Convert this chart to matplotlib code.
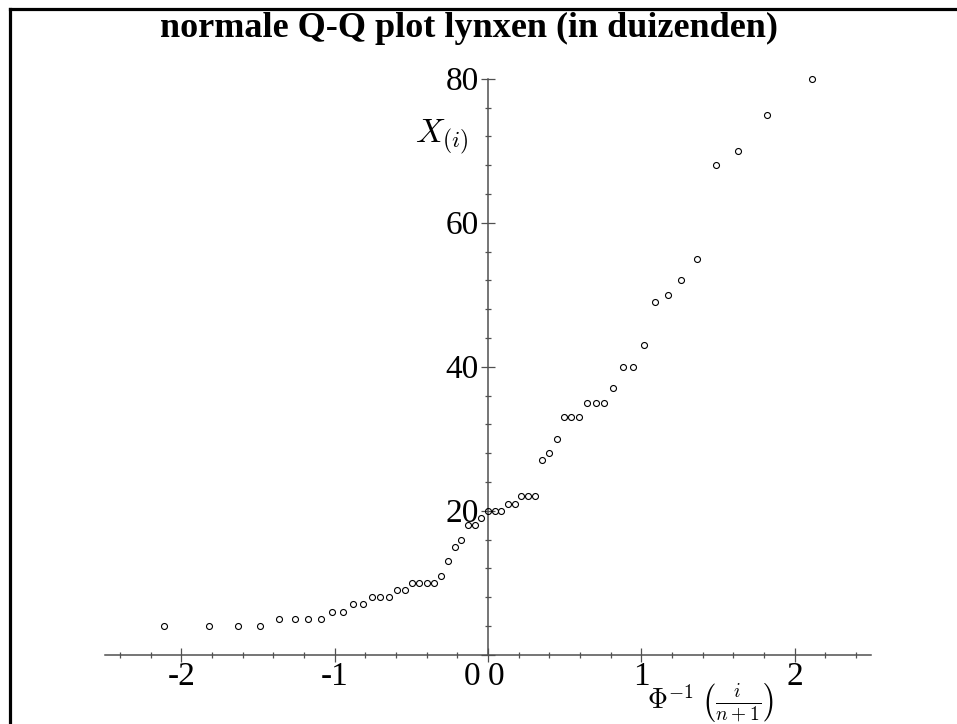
import matplotlib
matplotlib.use("Agg")
import matplotlib.pyplot as plt
from matplotlib.lines import Line2D

plt.rcParams['mathtext.fontset'] = 'cm'

# theoretical normal quantiles (lower half), mirrored for the upper half
x_lower = [-2.114, -1.819, -1.628, -1.484, -1.365, -1.262, -1.172, -1.090, -1.015,
           -0.945, -0.879, -0.817, -0.758, -0.702, -0.647, -0.595, -0.544, -0.495,
           -0.447, -0.399, -0.353, -0.307, -0.262, -0.218, -0.174, -0.130, -0.086, -0.043]
x_values = x_lower + [0.0] + [-v for v in reversed(x_lower)]

# ordered lynx counts (in thousands)
y_values = [4, 4, 4, 4, 5, 5, 5, 5, 6, 6, 7, 7, 8, 8, 8, 9, 9, 10, 10, 10, 10, 11, 13,
            15, 16, 18, 18, 19, 20, 20, 20, 21, 21, 22, 22, 22, 27, 28, 30, 33, 33, 33,
            35, 35, 35, 37, 40, 40, 43, 49, 50, 52, 55, 68, 70, 75, 80]

x_ticks = [-2, -1, 0, 1, 2]
x_ticklabels = ['-2', '-1', '', '1', '2']
y_ticks = [0, 20, 40, 60, 80]
y_ticklabels = ['', '20', '40', '60', '80']

title = 'normale Q-Q plot lynxen (in duizenden)'

W, H = 957, 724
fig = plt.figure(figsize=(W / 100, H / 100), dpi=100)
ax = fig.add_axes([104.7 / W, 1 - 654.7 / H, 766.6 / W, 576 / H])

ax.plot(x_values, y_values, linestyle='none', marker='o', markersize=4.3,
        markerfacecolor='none', markeredgecolor='black', markeredgewidth=0.8,
        clip_on=False, zorder=3)

ax.set_xlim(-2.5, 2.5)
ax.set_ylim(0, 80)

axis_col = '#505050'
for s in ['top', 'right']:
    ax.spines[s].set_visible(False)
ax.spines['left'].set_position(('data', 0))
ax.spines['bottom'].set_position(('data', 0))
for s in ['left', 'bottom']:
    ax.spines[s].set_color(axis_col)
    ax.spines[s].set_linewidth(1.1)

ax.set_xticks(x_ticks)
ax.set_xticklabels(x_ticklabels)
ax.set_yticks(y_ticks)
ax.set_yticklabels(y_ticklabels)
ax.set_xticks([v / 10 for v in range(-24, 25, 2) if v % 10 != 0], minor=True)
ax.set_yticks([v for v in range(4, 80, 4) if v % 20 != 0], minor=True)

ax.tick_params(which='major', direction='inout', length=9.4, width=0.9, color=axis_col,
               labelsize=24, pad=0.5)
ax.tick_params(which='minor', direction='inout', length=5, width=0.9, color=axis_col)
ax.tick_params(axis='y', which='major', pad=2)
for lab in ax.get_xticklabels() + ax.get_yticklabels():
    lab.set_fontfamily('Liberation Serif')

# the two zero labels next to the origin
ax.annotate('0', xy=(0, 0), xytext=(-16, -7), textcoords='offset pixels',
            ha='center', va='top', fontsize=24, family='Liberation Serif')
ax.annotate('0', xy=(0, 0), xytext=(8, -7), textcoords='offset pixels',
            ha='center', va='top', fontsize=24, family='Liberation Serif')

# axis labels
fig.text(442 / W, 1 - 137 / H, r'$X_{(i)}$', fontsize=24, ha='center', va='center')
fig.text(710 / W, 1 - 703 / H, r'$\Phi^{-1}\;\left(\frac{i}{n+1}\right)$', fontsize=20,
         ha='center', va='center')

# title
fig.text(469 / W, 1 - 37 / H, title, fontsize=26, fontweight='bold',
         family='Liberation Serif', ha='center', va='baseline')

# frame lines (top and left)
fig.add_artist(Line2D([10 / W, 1.0], [1 - 8.5 / H, 1 - 8.5 / H], color='black',
                      linewidth=2.3, transform=fig.transFigure))
fig.add_artist(Line2D([10 / W, 10 / W], [1 - 8.5 / H, 0.0], color='black',
                      linewidth=2.3, transform=fig.transFigure))

fig.savefig('out.png', dpi=100, facecolor='white')
